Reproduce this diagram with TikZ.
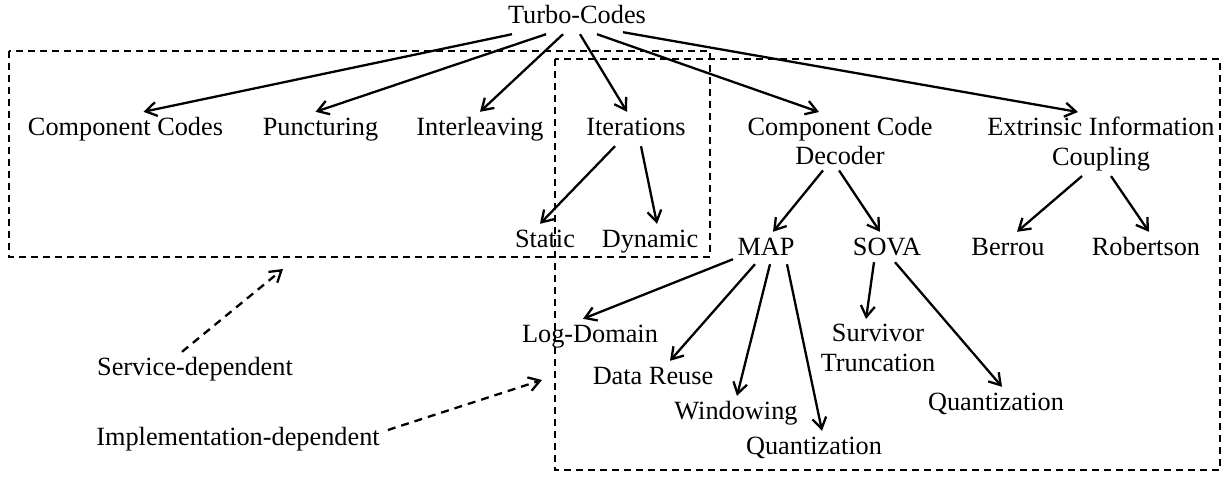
\documentclass[tikz,border=0pt]{standalone}
\usepackage{fontspec}
\setmainfont{Liberation Serif}
\usepackage{tikz}
\usetikzlibrary{arrows.meta,calc}

\begin{document}
\begin{tikzpicture}[x=1pt,y=-1pt,
  lbl/.style={font=\fontsize{26.3}{29.5}\selectfont, inner xsep=4pt, inner ysep=5pt},
  one/.style={lbl, text height=18pt, text depth=6pt, anchor=base},
  two/.style={lbl, align=center, anchor=north},
  arr/.style={-{Straight Barb[length=11pt,width=14pt]}, line width=2.3pt},
  darr/.style={arr, dash pattern=on 8pt off 6pt},
  box/.style={line width=1.8pt, dash pattern=on 7pt off 5pt}]
\useasboundingbox (0,0) rectangle (1231,477);

% groups
\draw[box] (9,51) rectangle (710,257);
\draw[box] (555,59) rectangle (1220,470);

\node[one] (tc) at (577,23) {Turbo-Codes};

\node[one] (cc) at (125.5,135) {Component Codes};
\node[one] (pu) at (320.5,135) {Puncturing};
\node[one] (il) at (480,135) {Interleaving};
\node[one] (it) at (636,135) {Iterations};
\node[two] (ccd) at (840,112) {Component Code\\Decoder};
\node[two] (eic) at (1101,112) {Extrinsic Information\\Coupling};

\node[one] (st) at (545,247) {Static};
\node[one] (dy) at (650,247) {Dynamic};
\node[one] (map) at (766,255) {MAP};
\node[one] (sova) at (887,255) {SOVA};
\node[one] (be) at (1008,255) {Berrou};
\node[one] (ro) at (1146,255) {Robertson};

\node[one] (ld) at (590,342) {Log-Domain};
\node[one] (dr) at (653,384) {Data Reuse};
\node[one] (wi) at (736,419) {Windowing};
\node[one] (qm) at (814,454) {Quantization};
\node[two] (sv) at (878,319) {Survivor\\Truncation};
\node[one] (qs) at (996,410) {Quantization};

\node[one] (sd) at (195,375) {Service-dependent};
\node[one] (id) at (238,445) {Implementation-dependent};
\coordinate (sdtip) at (283,269);
\coordinate (idtip) at (542,380);

\draw[arr] ([xshift=-65]tc.south) -- ([xshift=18]cc.north);
\draw[arr] ([xshift=-31]tc.south) -- ([xshift=-5]pu.north);
\draw[arr] ([xshift=-14]tc.south) -- (il.north);
\draw[arr] ([xshift=3]tc.south) -- ([xshift=-9]it.north);
\draw[arr] ([xshift=20]tc.south) -- ([xshift=-21]ccd.north);
\draw[arr] ([xshift=46,yshift=2]tc.south) -- ([xshift=-23]eic.north);

\draw[arr] ([xshift=-21]it.south) -- ([xshift=-5]st.north);
\draw[arr] ([xshift=5]it.south) -- ([xshift=7]dy.north);
\draw[arr] ([xshift=-17]ccd.south) -- ([xshift=7]map.north);
\draw[arr] ([xshift=-1]ccd.south) -- ([xshift=-7]sova.north);
\draw[arr] ([xshift=-19]eic.south) -- ([xshift=9]be.north);
\draw[arr] ([xshift=10]eic.south) -- ([xshift=3]ro.north);

\draw[arr] ([xshift=-33,yshift=7]map.south) -- ([xshift=-7]ld.north);
\draw[arr] ([xshift=-11,yshift=2]map.south) -- ([xshift=17]dr.north);
\draw[arr] ([xshift=4,yshift=2]map.south) -- ([xshift=1]wi.north);
\draw[arr] ([xshift=21,yshift=2]map.south) -- ([xshift=8]qm.north);
\draw[arr] ([xshift=-13,yshift=4]sova.south) -- ([xshift=-12]sv.north);
\draw[arr] ([xshift=8,yshift=4]sova.south) -- ([xshift=6]qs.north);

\draw[darr] ([xshift=-13]sd.north) -- (sdtip);
\draw[darr] ([xshift=4,yshift=9]id.east) -- (idtip);
\end{tikzpicture}
\end{document}
